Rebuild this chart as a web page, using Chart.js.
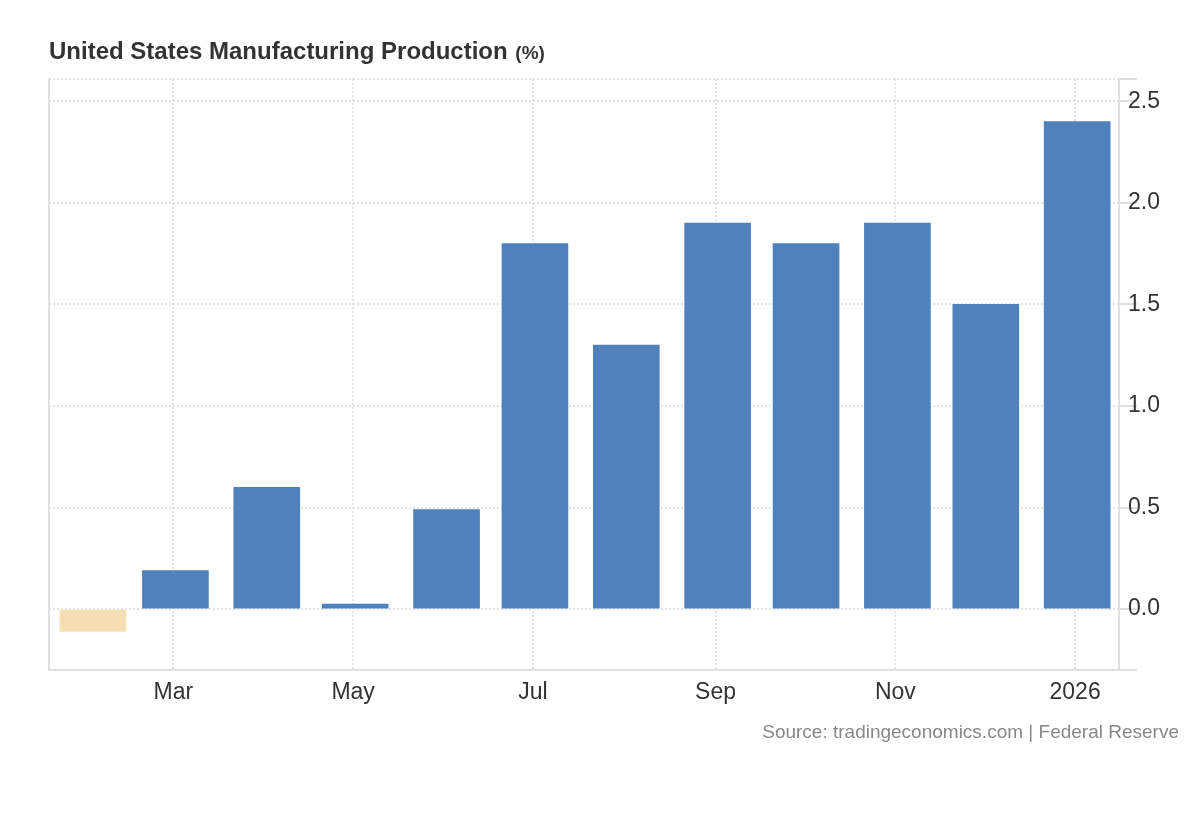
<!DOCTYPE html>
<html><head><meta charset="utf-8">
<script src="https://cdn.jsdelivr.net/npm/chart.js@4.4.1/dist/chart.umd.min.js"></script>
<style>
html,body{margin:0;padding:0;background:#fff;}
#wrap{position:relative;width:1200px;height:820px;overflow:hidden;}
#title{position:absolute;left:49px;top:39px;font:bold 24px/24px "Liberation Sans",Arial,Helvetica,sans-serif;color:#333;white-space:nowrap;}
#title span{font-size:19px;margin-left:1px;}
#source{position:absolute;right:21px;top:722px;font:19px/19px "Liberation Sans",Arial,Helvetica,sans-serif;color:#888;white-space:nowrap;}
canvas{position:absolute;left:0;top:0;}
</style></head><body>
<div id="wrap">
<canvas id="c" width="1200" height="820"></canvas>
<div id="title">United States Manufacturing Production <span>(%)</span></div>
<div id="source">Source: tradingeconomics.com | Federal Reserve</div>
</div>
<script>
// ---- data ----
const months = ['2025-02','2025-03','2025-04','2025-05','2025-06','2025-07','2025-08','2025-09','2025-10','2025-11','2025-12','2026-01'];
const values = [-0.11, 0.19, 0.6, 0.025, 0.49, 1.8, 1.3, 1.9, 1.8, 1.9, 1.5, 2.4];
const xTickMonths = ['2025-03','2025-05','2025-07','2025-09','2025-11','2026-01'];
const xTickLabels = ['Mar','May','Jul','Sep','Nov','2026'];
const yTickValues = [0, 0.5, 1, 1.5, 2, 2.5];

// ---- helpers ----
const DAY = 86400000;
const ORIGIN = Date.UTC(2025, 0, 1);
function dayOf(ym) {
  const [y, m] = ym.split('-').map(Number);
  return (Date.UTC(y, m - 1, 1) - ORIGIN) / DAY;
}
const BAR_SHIFT = 0.7;
const xMin = dayOf(months[0]) - 14.2;
const xMax = dayOf(months[months.length - 1]) + 14.9;
const yMin = -0.3, yMax = 2.61;

const points = months.map((m, i) => ({x: dayOf(m) + BAR_SHIFT, y: values[i]}));
const colors = values.map(v => v < 0 ? '#f5deb3' : '#4f81bd');
const xTickDays = xTickMonths.map(dayOf);

Chart.defaults.font.family = '"Liberation Sans", Arial, Helvetica, sans-serif';
Chart.defaults.color = '#333';

const GRID = '#e3e3e3';
const EDGE = '#e0e0e0';

new Chart(document.getElementById('c'), {
  type: 'bar',
  data: {
    datasets: [{
      data: points,
      backgroundColor: colors,
      borderWidth: 0,
      barThickness: 66
    }]
  },
  options: {
    responsive: false,
    animation: false,
    devicePixelRatio: 1,
    layout: {padding: {left: 49, top: 79, right: 0, bottom: 110}},
    plugins: {legend: {display: false}, tooltip: {enabled: false}, title: {display: false}},
    scales: {
      x: {
        type: 'linear',
        offset: false,
        min: xMin,
        max: xMax,
        afterBuildTicks: s => {
          s.ticks = [xMin, ...xTickDays, xMax].map(v => ({value: v}));
        },
        afterFit: s => { s.height = 40; },
        ticks: {
          font: {size: 23},
          color: '#333',
          padding: 9,
          maxRotation: 0,
          autoSkip: false,
          callback: (v) => {
            const i = xTickDays.indexOf(v);
            return i >= 0 ? xTickLabels[i] : '';
          }
        },
        grid: {
          offset: false,
          color: ctx => {
            const n = ctx.scale.ticks.length;
            return (ctx.index === 0 || ctx.index === n - 1) ? EDGE : GRID;
          },
          lineWidth: 2,
          drawTicks: false
        },
        border: {
          display: true,
          color: EDGE,
          width: 2,
          dash: ctx => {
            if (ctx.type !== 'tick') return [];
            const n = ctx.scale.ticks.length;
            return (ctx.index === 0 || ctx.index === n - 1) ? [] : [2, 2];
          }
        }
      },
      y: {
        type: 'linear',
        position: 'right',
        min: yMin,
        max: yMax,
        afterBuildTicks: s => {
          s.ticks = [yMin, ...yTickValues, yMax].map(v => ({value: v}));
        },
        afterFit: s => { s.width = 81; },
        ticks: {
          font: {size: 23},
          color: '#333',
          padding: -9,
          callback: (v) => yTickValues.includes(v) ? v.toFixed(1) : ''
        },
        grid: {
          color: GRID,
          lineWidth: 2,
          drawTicks: true,
          tickLength: 18,
          tickWidth: 2,
          tickColor: EDGE
        },
        border: {
          display: true,
          color: EDGE,
          width: 2,
          dash: [2, 2]
        }
      }
    }
  }
});
</script>
</body></html>
